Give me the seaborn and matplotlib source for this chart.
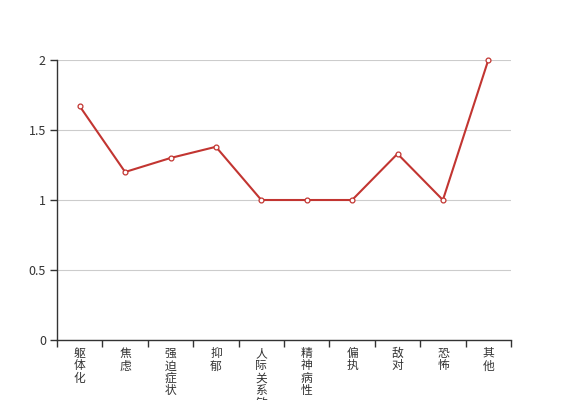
import matplotlib
matplotlib.use('Agg')
import matplotlib.pyplot as plt
import seaborn as sns
import pandas as pd
import numpy as np

# factor names and average scores
categories = ['躯体化', '焦虑', '强迫症状', '抑郁', '人际关系敏感',
              '精神病性', '偏执', '敌对', '恐怖', '其他']
scores = [1.67, 1.2, 1.3, 1.38, 1.0, 1.0, 1.0, 1.33, 1.0, 2.0]
y_ticks = [0, 0.5, 1, 1.5, 2]
y_tick_labels = ['0', '0.5', '1', '1.5', '2']

sns.set_style('white')
plt.rcParams['font.family'] = ['Noto Sans CJK SC', 'DejaVu Sans']

df = pd.DataFrame({'factor': categories, 'score': scores})

fig = plt.figure(figsize=(5.67, 4), dpi=100)
ax = fig.add_axes([57 / 567, 60 / 400, (511 - 57) / 567, 280 / 400])

sns.lineplot(x='factor', y='score', data=df, color='#c23531', linewidth=1.5,
             marker='o', markersize=3.5, markerfacecolor='white',
             markeredgecolor='#c23531', markeredgewidth=0.9, ax=ax,
             zorder=3, clip_on=False)

ax.set_ylim(0, 2)
ax.set_xlim(-0.5, len(categories) - 0.5)
ax.set_yticks(y_ticks)
ax.set_yticklabels(y_tick_labels, fontsize=9, color='#333333')
ax.yaxis.grid(True, color='#cccccc', linewidth=0.8)
ax.set_axisbelow(True)

# labels stacked vertically, one character per line
ax.set_xticks(range(len(categories)))
ax.set_xticklabels(['\n'.join(c) for c in categories], fontsize=8.5,
                   color='#333333', va='top', linespacing=0.95)
ax.set_xticks(np.arange(-0.5, len(categories)), minor=True)
ax.tick_params(axis='x', which='major', length=0, pad=5, bottom=True)
ax.tick_params(axis='x', which='minor', length=5, color='#333333', width=1,
               bottom=True)
ax.tick_params(axis='y', length=5, color='#333333', width=1, pad=3, left=True)

ax.set_xlabel('')
ax.set_ylabel('')
for side in ['top', 'right']:
    ax.spines[side].set_visible(False)
for side in ['left', 'bottom']:
    ax.spines[side].set_color('#333333')
    ax.spines[side].set_linewidth(1)

plt.savefig('out.png', dpi=100)
plt.close()
